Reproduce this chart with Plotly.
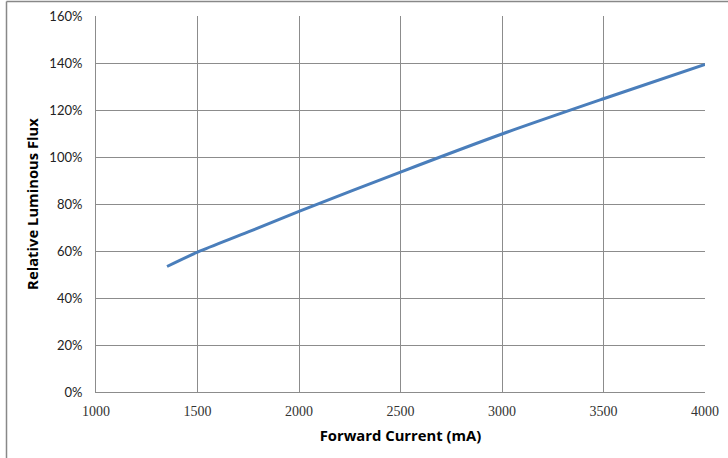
import plotly.graph_objects as go

current_ma = [1350, 1500, 1750, 2000, 2500, 3000, 3500, 4000]
rel_flux_pct = [53.4, 59.5, 68.1, 76.9, 93.6, 109.8, 124.8, 139.4]

x_ticks = [1000, 1500, 2000, 2500, 3000, 3500, 4000]
y_ticks = [0, 20, 40, 60, 80, 100, 120, 140, 160]
y_tick_labels = [f"{v}%" for v in y_ticks]

W, H = 728, 458
L, R, T, B = 96, 23, 16, 66
pw, ph = W - L - R, H - T - B

grid = "#8c8c8c"

fig = go.Figure()
fig.add_trace(go.Scatter(
    x=current_ma, y=rel_flux_pct, mode="lines",
    line=dict(color="#4a7ebb", width=3, shape="spline", smoothing=0.8),
    showlegend=False, hoverinfo="skip",
))

def px_x(p):
    return (p - L) / pw

def px_y(p):
    return (H - B - p) / ph

fig.update_layout(
    width=W, height=H,
    margin=dict(l=L, r=R, t=T, b=B, autoexpand=False),
    paper_bgcolor="white", plot_bgcolor="white",
    xaxis=dict(
        range=[1000, 4000], tickvals=x_ticks,
        ticktext=[str(v) for v in x_ticks],
        automargin=False,
        showgrid=True, gridcolor=grid, gridwidth=1,
        showline=True, linecolor=grid, linewidth=1, mirror=False,
        ticks="outside", ticklen=6, tickcolor="rgba(0,0,0,0)",
        tickfont=dict(family="Liberation Serif", size=14, color="#333"),
        zeroline=False,
        title=dict(text="<b>Forward Current (mA)</b>", standoff=12,
                   font=dict(family="Open Sans", size=14.8, color="black")),
    ),
    yaxis=dict(
        range=[0, 160], tickvals=y_ticks, ticktext=y_tick_labels,
        automargin=False,
        showgrid=True, gridcolor=grid, gridwidth=1,
        showline=True, linecolor=grid, linewidth=1,
        ticks="outside", ticklen=10, tickcolor="rgba(0,0,0,0)",
        tickfont=dict(family="Lato", size=13, color="#222"),
        zeroline=False,
        title=dict(text="<b>Relative Luminous Flux</b>", standoff=7,
                   font=dict(family="Open Sans", size=14.8, color="black")),
    ),
    shapes=[
        dict(type="line", xref="paper", yref="paper",
             x0=px_x(6.5), x1=px_x(6.5), y0=px_y(1.5), y1=px_y(460),
             line=dict(color="#888888", width=1.5)),
        dict(type="line", xref="paper", yref="paper",
             x0=px_x(6.5), x1=px_x(730), y0=px_y(1.5), y1=px_y(1.5),
             line=dict(color="#888888", width=1.5)),
    ],
)

fig.write_html(
    "out.html",
    config={"displayModeBar": False},
    post_script="document.body.style.margin='0';document.body.style.overflow='hidden';",
)
